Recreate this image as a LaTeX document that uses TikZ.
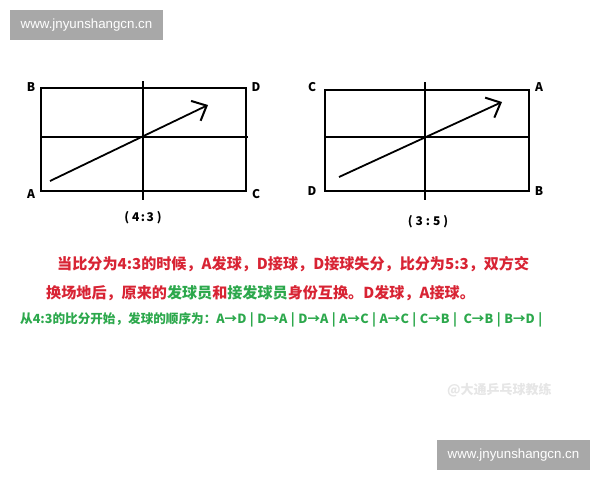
\documentclass[tikz,border=0pt]{standalone}
\usepackage{fontspec}
\setmainfont{Liberation Sans}
\newfontfamily\cjk{Noto Sans CJK SC}
\usetikzlibrary{arrows.meta}
\definecolor{banner}{RGB}{168,168,168}
\definecolor{redtext}{RGB}{216,36,52}
\definecolor{greentext}{RGB}{44,168,76}
\definecolor{markgray}{RGB}{230,230,230}
\tikzstyle{site} = [rectangle, fill=banner, text=white, minimum width=153pt, minimum height=30pt, inner sep=0pt, font=\fontsize{13.3}{13.3}\selectfont]
\tikzstyle{court} = [line width=2.2pt]
\tikzstyle{corner} = [font=\cjk\bfseries\fontsize{12}{12}\selectfont, inner sep=0pt]
\tikzstyle{score} = [font=\cjk\bfseries\fontsize{12}{12}\selectfont, inner sep=0pt]
\tikzstyle{serve} = [line width=1.8pt, -{Straight Barb[length=12pt, width=22pt, line width=2pt]}]
\tikzstyle{note} = [anchor=west, inner sep=0pt, font=\cjk\bfseries\fontsize{15.1}{15.1}\selectfont, text=redtext]
\tikzstyle{order} = [anchor=west, inner sep=0pt, font=\cjk\bfseries\fontsize{12.6}{12.6}\selectfont, text=greentext]
\newcommand{\grn}[1]{\textcolor{greentext}{#1}}
\newcommand{\sep}{\hspace{3.5pt}\textbar\hspace{3.5pt}}
\begin{document}
\begin{tikzpicture}[x=1pt, y=-1pt]
\useasboundingbox (0,0) rectangle (600,480);
% banners
\node (sitetop) [site] at (86.5,25) {www.jnyunshangcn.cn};
\node (sitebottom) [site] at (513.5,455) {www.jnyunshangcn.cn};
% left court (4:3)
\draw[court] (41,88) rectangle (246,191);
\draw[court] (41,137) -- (248,137);
\draw[court] (143,81) -- (143,200);
\coordinate (lfrom) at (50,181);
\coordinate (lto) at (208,105);
\draw[serve] (lfrom) -- (lto);
\node (lB) [corner] at (31,87) {B};
\node (lD) [corner] at (256,87) {D};
\node (lA) [corner] at (31,194) {A};
\node (lC) [corner] at (256,194) {C};
\node (lscore) [score] at (143,218) {(\hspace{3pt}4\hspace{1.5pt}:\hspace{1.5pt}3\hspace{3pt})};
% right court (3:5)
\draw[court] (325,90) rectangle (529,191);
\draw[court] (325,137) -- (529,137);
\draw[court] (425,82) -- (425,200);
\coordinate (rfrom) at (339,177);
\coordinate (rto) at (502,102);
\draw[serve] (rfrom) -- (rto);
\node (rC) [corner] at (312,87) {C};
\node (rA) [corner] at (539,87) {A};
\node (rD) [corner] at (312,191) {D};
\node (rB) [corner] at (539,191) {B};
\node (rscore) [score] at (428,222) {(\hspace{3pt}3\hspace{3pt}:\hspace{3pt}5\hspace{3pt})};
% notes
\node (line1) [note] at (57,264) {当比分为4:3的时候，A发球，D接球，D接球失分，比分为5:3，双方交};
\node (line2) [note] at (46,293) {换场地后，原来的\grn{发球员}和\grn{接发球员}身份互换。D发球，A接球。};
\node (line3) [order] at (20,320) {从4:3的比分开始，发球的顺序为：A→D\sep D→A\sep D→A\sep A→C\sep A→C\sep C→B\sep\hspace{3pt}C→B\sep B→D\hspace{3.5pt}\textbar};
\node (mark) [anchor=west, text=markgray, inner sep=0pt, font=\cjk\bfseries\fontsize{13}{13}\selectfont] at (447,390) {@大通乒乓球教练};
\end{tikzpicture}
\end{document}
